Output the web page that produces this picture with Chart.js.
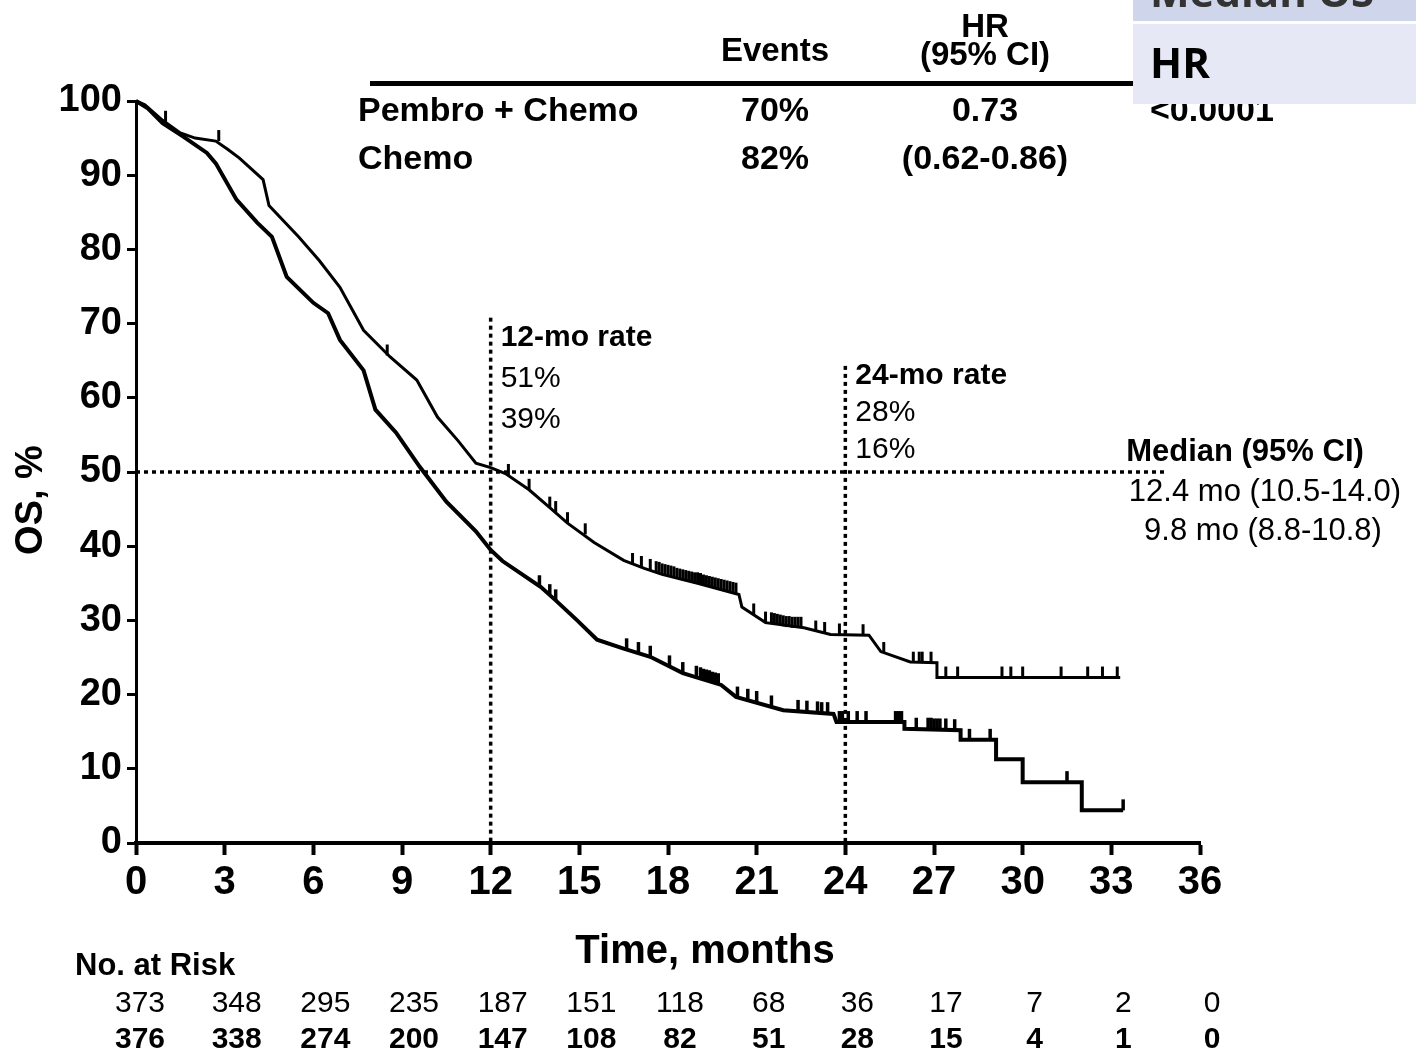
<!DOCTYPE html>
<html>
<head>
<meta charset="utf-8">
<script src="https://cdn.jsdelivr.net/npm/chart.js@4.4.1/dist/chart.umd.min.js"></script>
<style>
  html, body { margin: 0; padding: 0; background: #fff; }
  #wrap { position: relative; width: 1416px; height: 1055px; }
</style>
</head>
<body>
<div id="wrap"><canvas id="os-chart" width="1416" height="1055"></canvas></div>
<script>
/* data: [month, OS %] */

const pembroCurve = [
  [0, 100], [0.3, 99.5], [0.9, 97.4], [1.5, 95.7], [2.0, 95.0], [2.7, 94.6], [3.1, 93.5],
  [3.5, 92.3], [4.3, 89.4], [4.5, 85.9], [5.5, 81.7], [6.2, 78.5], [6.9, 74.9], [7.7, 69.1],
  [8.6, 65.5], [9.5, 62.4], [10.2, 57.4], [10.9, 54.2], [11.5, 51.2], [12.0, 50.6], [12.5, 49.8],
  [13.3, 47.6], [14.0, 45.2], [14.6, 43.1], [15.5, 40.5], [16.5, 38.1], [17.2, 37.0], [17.8, 36.2],
  [19.0, 35.0], [20.4, 33.5], [20.5, 31.8], [21.3, 29.7], [22.6, 29.0], [23.5, 28.1], [24.8, 28.0],
  [25.2, 25.8], [26.2, 24.4], [27.1, 24.3], [27.1, 22.3], [33.3, 22.3]
];
const chemoCurve = [
  [0, 100], [0.4, 99.0], [0.9, 97.0], [1.6, 95.2], [2.4, 93.0], [2.7, 91.6], [3.4, 86.7],
  [4.1, 83.6], [4.6, 81.7], [5.1, 76.3], [6.0, 72.8], [6.5, 71.4], [6.9, 67.8], [7.7, 63.7],
  [8.1, 58.4], [8.8, 55.3], [9.6, 50.7], [10.5, 46.0], [11.5, 42.0], [12.0, 39.5], [12.4, 38.0],
  [13.7, 34.5], [14.2, 32.7], [14.9, 30.1], [15.6, 27.4], [16.5, 26.2], [17.4, 25.1], [18.5, 22.9],
  [19.8, 21.3], [20.3, 19.7], [21.9, 17.9], [23.6, 17.4], [23.7, 16.3], [26.0, 16.3], [26.0, 15.4],
  [27.9, 15.2], [27.9, 13.9], [29.1, 13.9], [29.1, 11.3], [30.0, 11.3], [30.0, 8.2], [32.0, 8.2],
  [32.0, 4.4], [33.4, 4.4]
];

// censored patients (tick marks)
const pembroCensor = [
  [1.0, 97.2], [2.8, 94.6], [8.5, 65.7], [12.6, 49.6], [13.3, 47.6], [14.0, 45.2], [14.2, 44.6],
  [14.6, 43.1], [15.2, 41.6], [16.8, 37.6], [17.1, 37.2], [17.4, 36.8], [17.6, 36.5], [17.7, 36.4],
  [17.8, 36.2], [17.9, 36.1], [18.0, 36.0], [18.1, 35.9], [18.2, 35.8], [18.3, 35.6], [18.4, 35.5],
  [18.5, 35.4], [18.6, 35.3], [18.7, 35.2], [18.8, 35.1], [18.9, 35.0], [19.0, 35.0], [19.1, 34.9],
  [19.2, 34.7], [19.3, 34.6], [19.4, 34.5], [19.5, 34.4], [19.6, 34.3], [19.7, 34.2], [19.8, 34.1],
  [19.9, 34.0], [20.0, 33.9], [20.1, 33.8], [20.2, 33.7], [20.3, 33.6], [20.9, 30.8], [21.3, 29.7],
  [21.5, 29.6], [21.6, 29.5], [21.7, 29.4], [21.8, 29.3], [21.9, 29.2], [22.0, 29.1], [22.1, 29.1],
  [22.2, 29.0], [22.3, 29.0], [22.4, 29.0], [22.5, 29.0], [23.0, 28.5], [23.3, 28.3], [23.8, 28.1],
  [24.6, 28.0], [25.3, 25.6], [26.3, 24.3], [26.5, 24.3], [26.6, 24.3], [26.9, 24.3], [27.4, 22.3],
  [27.8, 22.3], [29.3, 22.3], [29.6, 22.3], [30.0, 22.3], [31.3, 22.3], [32.2, 22.3], [32.7, 22.3],
  [33.2, 22.3]
];
const chemoCensor = [
  [13.65, 34.6], [14.0, 33.4], [14.2, 32.7], [16.6, 26.1], [17.0, 25.6], [17.4, 25.1], [18.05, 23.8],
  [18.5, 22.9], [18.96, 22.4], [19.1, 22.2], [19.2, 22.0], [19.3, 21.9], [19.4, 21.8], [19.5, 21.6],
  [19.6, 21.5], [19.7, 21.4], [20.35, 19.6], [20.7, 19.3], [21.0, 19.0], [21.5, 18.4], [22.4, 17.8],
  [22.7, 17.7], [23.06, 17.6], [23.2, 17.5], [23.4, 17.5], [23.8, 16.3], [23.9, 16.3], [24.1, 16.3],
  [24.4, 16.3], [24.7, 16.3], [25.7, 16.3], [25.8, 16.3], [25.9, 16.3], [26.4, 15.4], [26.8, 15.4],
  [26.9, 15.4], [27.0, 15.3], [27.1, 15.3], [27.2, 15.3], [27.4, 15.3], [27.7, 15.2], [28.2, 13.9],
  [28.9, 13.9], [31.5, 8.2], [33.4, 4.4]
];

// number at risk
const riskMonths = [0, 3, 6, 9, 12, 15, 18, 21, 24, 27, 30, 33, 36];
const pembroRisk = [373, 348, 295, 235, 187, 151, 118, 68, 36, 17, 7, 2, 0];
const chemoRisk = [376, 338, 274, 200, 147, 108, 82, 51, 28, 15, 4, 1, 0];

// landmark rates and median reference line
const rateMonths = [12, 24];
const rateLineTop = [70.8, 64.3];
const rateTitles = ["12-mo rate", "24-mo rate"];
const pembroRates = ["51%", "28%"];
const chemoRates = ["39%", "16%"];
const medianLevel = 50;
const medianLineEnd = 34.9;
const medianTexts = ["Median (95% CI)", "12.4 mo (10.5-14.0)", "9.8 mo (8.8-10.8)"];

// summary table
const armNames = ["Pembro + Chemo", "Chemo"];
const eventPct = ["70%", "82%"];
const hrTexts = ["0.73", "(0.62-0.86)"];

const FAM = '"Liberation Sans", Arial, Helvetica, sans-serif';
function fnt(weight, size) { return weight + ' ' + size + 'px ' + FAM; }

function txt(ctx, s, x, y, font, align) {
    ctx.font = font;
    ctx.textAlign = align || 'left';
    ctx.textBaseline = 'middle';
    ctx.fillStyle = '#000';
    ctx.fillText(s, x, y);
}

//dotted lines, censor ticks and all the extra text
const kmExtras = {
    id: 'kmExtras',
    beforeDatasetsDraw(chart) {
        const ctx = chart.ctx;
        const xs = chart.scales.x, ys = chart.scales.y;
        ctx.save();
        ctx.strokeStyle = '#000';
        ctx.lineWidth = 3.5;
        ctx.setLineDash([4, 4]);
        rateMonths.forEach((m, i) => {
            ctx.beginPath();
            ctx.moveTo(xs.getPixelForValue(m), ys.getPixelForValue(rateLineTop[i]));
            ctx.lineTo(xs.getPixelForValue(m), ys.getPixelForValue(0));
            ctx.stroke();
        });
        ctx.beginPath();
        ctx.moveTo(xs.getPixelForValue(0), ys.getPixelForValue(medianLevel));
        ctx.lineTo(xs.getPixelForValue(medianLineEnd), ys.getPixelForValue(medianLevel));
        ctx.stroke();
        ctx.restore();
    },
    afterDatasetsDraw(chart) {
        const ctx = chart.ctx;
        const xs = chart.scales.x, ys = chart.scales.y;
        ctx.save();
        ctx.strokeStyle = '#000';
        const drawTicks = (list, w) => {
            ctx.lineWidth = w;
            list.forEach(p => {
                const px = xs.getPixelForValue(p[0]);
                const py = ys.getPixelForValue(p[1]);
                ctx.beginPath();
                ctx.moveTo(px, py);
                ctx.lineTo(px, py - 11);
                ctx.stroke();
            });
        };
        drawTicks(pembroCensor, 3);
        drawTicks(chemoCensor, 3.5);
        ctx.restore();
    },
    afterDraw(chart) {
        const ctx = chart.ctx;
        const xs = chart.scales.x, ys = chart.scales.y;
        ctx.save();

        // axis titles
        txt(ctx, 'Time, months', 705, 952, fnt('bold', 40), 'center');
        ctx.save();
        ctx.translate(32, 500);
        ctx.rotate(-Math.PI / 2);
        txt(ctx, 'OS, %', 0, 0, fnt('bold', 38), 'center');
        ctx.restore();

        // landmark labels
        const gap = [41, 37];
        rateMonths.forEach((m, i) => {
            const lx = xs.getPixelForValue(m) + 10;
            const ly = ys.getPixelForValue(rateLineTop[i]) + (i === 0 ? 20 : 10);
            txt(ctx, rateTitles[i], lx, ly, fnt('bold', 30));
            txt(ctx, pembroRates[i], lx, ly + gap[i], fnt('normal', 30));
            txt(ctx, chemoRates[i], lx, ly + 2 * gap[i], fnt('normal', 30));
        });

        // median block
        txt(ctx, medianTexts[0], 1245, 452, fnt('bold', 31), 'center');
        txt(ctx, medianTexts[1], 1265, 492, fnt('normal', 31), 'center');
        txt(ctx, medianTexts[2], 1263, 531, fnt('normal', 31), 'center');

        // summary table
        txt(ctx, 'Events', 775, 52, fnt('bold', 33), 'center');
        txt(ctx, 'HR', 985, 28, fnt('bold', 33), 'center');
        txt(ctx, '(95% CI)', 985, 56, fnt('bold', 33), 'center');
        ctx.fillStyle = '#000';
        ctx.fillRect(370, 81, 780, 5);
        armNames.forEach((a, i) => {
            const ry = 112 + i * 48;
            txt(ctx, a, 358, ry, fnt('bold', 34));
            txt(ctx, eventPct[i], 775, ry, fnt('bold', 34), 'center');
            txt(ctx, hrTexts[i], 985, ry, fnt('bold', 34), 'center');
        });
        txt(ctx, '<0.0001', 1150, 112, fnt('bold', 34));

        // number at risk
        txt(ctx, 'No. at Risk', 75, 966, fnt('bold', 31));
        riskMonths.forEach((m, i) => {
            const rx = xs.getPixelForValue(m) + (i === 0 ? 4 : 12);
            txt(ctx, String(pembroRisk[i]), rx, 1004, fnt('normal', 30), 'center');
            txt(ctx, String(chemoRisk[i]), rx, 1040, fnt('bold', 30), 'center');
        });

        // slide overlay box in the corner (its first row is cut off by the image edge)
        ctx.fillStyle = '#cfd5ea';
        ctx.fillRect(1133, 0, 283, 21);
        ctx.fillStyle = '#e6e9f5';
        ctx.fillRect(1133, 24, 283, 80);
        ctx.save();
        ctx.beginPath();
        ctx.rect(1133, 0, 283, 8);
        ctx.clip();
        ctx.font = 'bold 42px "Open Sans", sans-serif';
        ctx.textAlign = 'left';
        ctx.textBaseline = 'alphabetic';
        ctx.fillStyle = '#333';
        ctx.fillText('Median OS', 1150, 7);
        ctx.restore();
        ctx.font = 'bold 42px "Open Sans", sans-serif';
        ctx.textAlign = 'left';
        ctx.textBaseline = 'middle';
        ctx.fillStyle = '#000';
        ctx.fillText('HR', 1150, 66);

        ctx.restore();
    }
};

function toPoints(list) {
    return list.map(p => ({ x: p[0], y: p[1] }));
}

function drawChart() {
    const ctx = document.getElementById('os-chart').getContext('2d');
    const chart = new Chart(ctx, {
        type: 'scatter',
        data: {
            datasets: [
                { label: 'Pembro + Chemo', data: toPoints(pembroCurve), showLine: true, borderColor: '#000',
                  borderWidth: 3, pointRadius: 0, tension: 0, clip: false },
                { label: 'Chemo', data: toPoints(chemoCurve), showLine: true, borderColor: '#000',
                  borderWidth: 4, pointRadius: 0, tension: 0, clip: false }
            ]
        },
        options: {
            responsive: false,
            animation: false,
            devicePixelRatio: 1,
            layout: { padding: { left: 0, right: 216, top: 101, bottom: 81 } },
            plugins: { legend: { display: false }, tooltip: { enabled: false } },
            scales: {
                x: {
                    type: 'linear', min: 0, max: 36,
                    ticks: { stepSize: 3, color: '#000', font: { family: FAM, size: 40, weight: 'bold' }, padding: 4, maxRotation: 0 },
                    grid: { drawOnChartArea: false, drawTicks: true, tickLength: 12, tickWidth: 4, tickColor: '#000' },
                    border: { display: true, color: '#000', width: 4 },
                    afterFit: s => { s.height = 131; }
                },
                y: {
                    min: 0, max: 100,
                    ticks: { stepSize: 10, color: '#000', font: { family: FAM, size: 38, weight: 'bold' }, padding: 5 },
                    grid: { drawOnChartArea: false, drawTicks: true, tickLength: 9, tickWidth: 3, tickColor: '#000' },
                    border: { display: true, color: '#000', width: 3 },
                    afterFit: s => { s.width = 136; }
                }
            }
        },
        plugins: [kmExtras]
    });
}

drawChart();
</script>
</body>
</html>
